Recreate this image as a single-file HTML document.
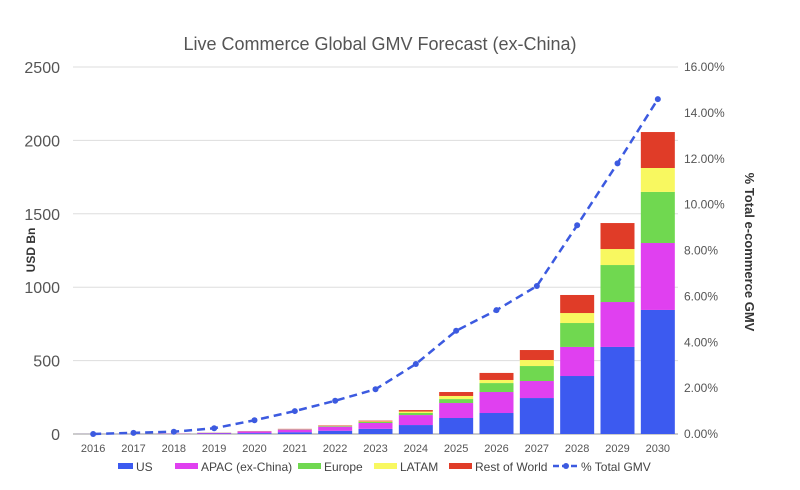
<!DOCTYPE html>
<html><head><meta charset="utf-8"><style>
html,body{margin:0;padding:0;background:#fff;width:800px;height:490px;overflow:hidden}
svg{font-family:"Liberation Sans",Arial,sans-serif}
</style></head><body>
<svg id="chart" width="800" height="490" viewBox="0 0 800 490">
<text x="380" y="50" text-anchor="middle" font-size="18" fill="#555">Live Commerce Global GMV Forecast (ex-China)</text>
<g id="grid"></g>
<g id="bars"></g>
<g id="line"></g>
<g id="axes"></g>
<text transform="translate(35,250) rotate(-90)" text-anchor="middle" font-size="12" font-weight="bold" fill="#333">USD Bn</text>
<text transform="translate(745,252) rotate(90)" text-anchor="middle" font-size="13" font-weight="bold" fill="#333">% Total e-commerce GMV</text>
<g id="legend" font-size="12" fill="#444">
<g><rect x="118" y="463" width="15" height="6" fill="#3c5af0"/><text x="136" y="471">US</text></g>
<g><rect x="175" y="463" width="23" height="6" fill="#e040f0"/><text x="201" y="471">APAC (ex-China)</text></g>
<g><rect x="298" y="463" width="23" height="6" fill="#70d850"/><text x="324" y="471">Europe</text></g>
<g><rect x="374" y="463" width="23" height="6" fill="#f8f860"/><text x="400" y="471">LATAM</text></g>
<g><rect x="449" y="463" width="23" height="6" fill="#e03c28"/><text x="475" y="471">Rest of World</text></g>
<g><line x1="553" y1="466" x2="577" y2="466" stroke="#3c5ae0" stroke-width="2.5" stroke-dasharray="6,3"/><circle cx="566" cy="466" r="3" fill="#3c5ae0"/><text x="581" y="471">% Total GMV</text></g>
</g>
</svg>
<script>
const years=["2016","2017","2018","2019","2020","2021","2022","2023","2024","2025","2026","2027","2028","2029","2030"];
const us=[0.2,0.5,1,3,6,12,22,35,61,109,143,245,395,593,845];
const apac=[0.2,0.3,2,5,12,18,28,40,68,102,143,116,198,306,456];
const europe=[0.05,0.1,0.5,1,1,2,4,7,14,27,61,102,163,252,348];
const latam=[0.02,0.05,0.2,0.5,0.5,1,2,4,10,21,21,41,68,109,163];
const row=[0.03,0.05,0.3,0.5,1,2,3,5,10,27,48,68,123,177,245];
const pct=[0,0.05,0.1,0.25,0.6,1.0,1.45,1.95,3.05,4.5,5.4,6.45,9.1,11.8,14.6];
const leftTicks=[0,500,1000,1500,2000,2500];
const rightTicks=[0,2,4,6,8,10,12,14,16];
const NS="http://www.w3.org/2000/svg";
const X0=73,X1=678,Y0=434,YT=67;
const step=(X1-X0)/years.length;
const xC=i=>X0+step*(i+0.5);
const yL=v=>Y0-(v/2500)*(Y0-YT);
const yR=v=>Y0-(v/16)*(Y0-YT);
function mk(tag,attrs,parent){const e=document.createElementNS(NS,tag);for(const k in attrs)e.setAttribute(k,attrs[k]);parent.appendChild(e);return e;}
const grid=document.getElementById('grid'),axes=document.getElementById('axes'),bars=document.getElementById('bars'),line=document.getElementById('line');
leftTicks.forEach(t=>{
  const l=mk('line',{x1:X0,x2:X1,y1:yL(t),y2:yL(t),stroke:t===0?'#999':'#ddd','stroke-width':1},grid);
  
  
  const tx=mk('text',{x:60,y:yL(t)+6,'text-anchor':'end','font-size':16,fill:'#555'},axes);
  tx.textContent=t;
  
  
});
rightTicks.forEach(t=>{
  const tx=mk('text',{x:684,y:yR(t)+4,'font-size':12,fill:'#555'},axes);
  tx.textContent=t.toFixed(2)+'%';
  
  
});
years.forEach((y,i)=>{
  const tx=mk('text',{x:xC(i),y:452,'text-anchor':'middle','font-size':11,fill:'#555'},axes);
  tx.textContent=y;
  
  
});
const series=[[us,'#3c5af0','us'],[apac,'#e040f0','apac'],[europe,'#70d850','europe'],[latam,'#f8f860','latam'],[row,'#e03c28','rest-of-world']];
const bw=34;
years.forEach((y,i)=>{
  let cum=0;
  series.forEach(([arr,col,name])=>{
    const v=arr[i];
    const r=mk('rect',{x:xC(i)-bw/2,y:yL(cum+v),width:bw,height:Math.max(0,yL(cum)-yL(cum+v)),fill:col},bars);
    
    
    cum+=v;
  });
});
const pts=pct.map((p,i)=>xC(i)+','+yR(p)).join(' ');
const pl=mk('polyline',{points:pts,fill:'none',stroke:'#3c5ae0','stroke-width':2.5,'stroke-dasharray':'8,5'},line);


pct.forEach((p,i)=>{
  const c=mk('circle',{cx:xC(i),cy:yR(p),r:3,fill:'#3c5ae0'},line);
  
  
});
</script>
</body></html>
